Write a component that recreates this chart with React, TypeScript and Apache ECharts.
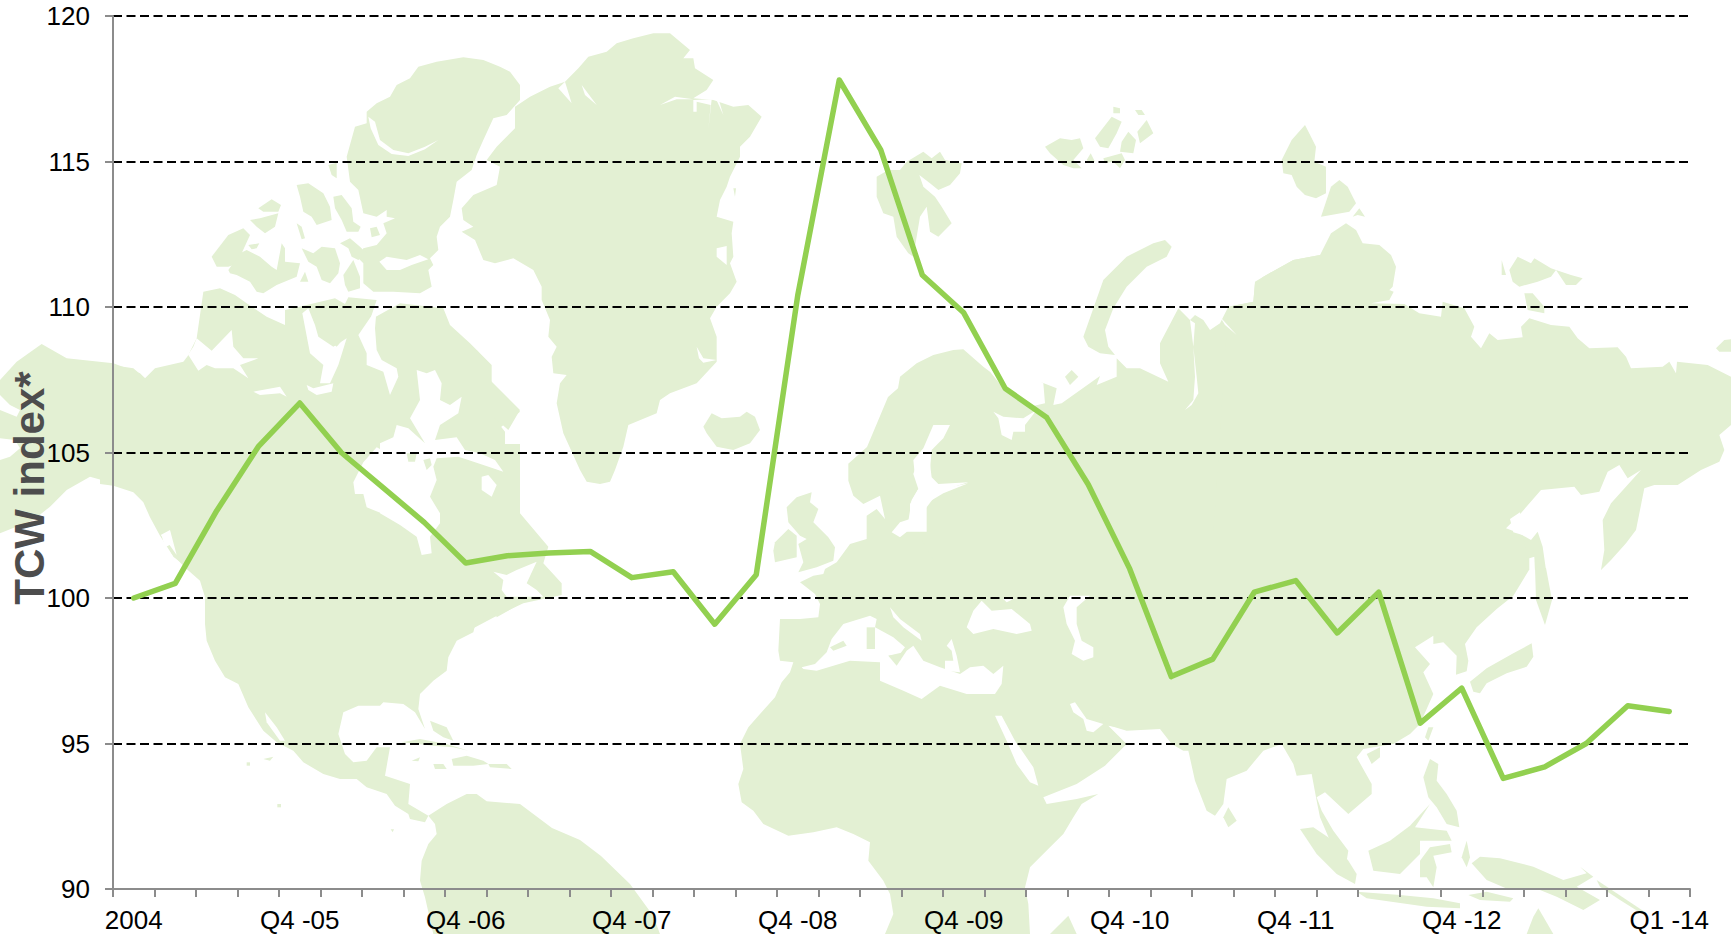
import React, { useEffect, useRef } from "react";
import * as echarts from "echarts";

const categories = [
  "2004", "Q1 -05", "Q2 -05", "Q3 -05", "Q4 -05", "Q1 -06", "Q2 -06", "Q3 -06", "Q4 -06", "Q1 -07",
  "Q2 -07", "Q3 -07", "Q4 -07", "Q1 -08", "Q2 -08", "Q3 -08", "Q4 -08", "Q1 -09", "Q2 -09", "Q3 -09",
  "Q4 -09", "Q1 -10", "Q2 -10", "Q3 -10", "Q4 -10", "Q1 -11", "Q2 -11", "Q3 -11", "Q4 -11", "Q1 -12",
  "Q2 -12", "Q3 -12", "Q4 -12", "Q1 -13", "Q2 -13", "Q3 -13", "Q4 -13", "Q1 -14",
];
const shownLabels = ["2004", "Q4 -05", "Q4 -06", "Q4 -07", "Q4 -08", "Q4 -09", "Q4 -10", "Q4 -11", "Q4 -12", "Q1 -14"];
const tcwIndex = [
  100, 100.5, 103, 105.2, 106.7, 105, 103.8, 102.6, 101.2, 101.45,
  101.55, 101.6, 100.7, 100.9, 99.1, 100.8, 110.4, 117.8, 115.4, 111.1,
  109.8, 107.2, 106.2, 103.9, 101, 97.3, 97.9, 100.2, 100.6, 98.8,
  100.2, 95.7, 96.9, 93.8, 94.2, 95, 96.3, 96.1,
];
const yAxisTitle = "TCW index*";

type Pts = number[][];
type Piece = [number, number, Pts];
// Background world map: outlines traced per crop window [originX, originY, points at 3x]
const Z4 = [100, 0];
const Z5 = [100, 464];
const Z6 = [500, 0];
const Z7 = [700, 464];
const Z8 = [900, 60];
const Z9 = [1311, 100];
const Z10 = [1100, 464];
const Z11 = [0, 330];
const Z12 = [380, 350];
const Z3 = [1300, 650];
const REAL = [0, 0];
const p = (o: number[], pts: Pts): Piece => [o[0], o[1], pts];

const mapLand: Piece[] = [
  p(Z4, [[800,335],[830,310],[870,290],[890,255],[930,235],[955,200],[1010,185],[1090,172],[1150,180],[1200,200],[1230,215],[1260,255],[1260,300],[1220,345],[1180,355],[1150,420],[1130,465],[1115,510],[1070,545],[1060,600],[1050,650],[1020,680],[1010,710],[1015,750],[990,775],[1000,795],[985,810],[995,860],[960,880],[880,875],[820,875],[790,850],[790,790],[775,775],[790,745],[830,735],[860,700],[850,670],[885,655],[860,650],[860,630],[830,650],[790,640],[775,570],[750,545],[740,470],[765,380],[800,370]]),
  p(Z4, [[0,1090],[100,1105],[135,1135],[165,1105],[250,1085],[265,1065],[290,1015],[310,875],[360,865],[405,885],[440,910],[500,950],[555,975],[555,930],[620,915],[705,895],[735,912],[745,892],[830,900],[810,960],[900,910],[1030,925],[1050,975],[1110,1030],[1175,1095],[1175,1150],[1260,1235],[1155,1320],[1130,1410],[0,1410]]),
  p(Z12, [[0,0],[290,0],[330,45],[330,90],[420,180],[385,240],[340,200],[375,245],[375,310],[380,350],[360,380],[420,490],[505,590],[490,640],[545,700],[545,735],[430,760],[345,800],[280,835],[0,840]]),
  p(Z11, [[0,150],[50,95],[125,42],[200,85],[340,100],[420,130],[440,150],[600,150],[600,740],[520,680],[490,620],[470,570],[420,490],[340,460],[270,440],[200,480],[150,530],[100,570],[0,610]]),
  p(Z5, [[0,60],[40,65],[100,85],[130,115],[150,160],[180,215],[215,270],[260,315],[300,350],[315,400],[315,480],[320,530],[345,590],[375,640],[415,660],[445,730],[490,800],[530,835],[580,860],[610,895],[670,930],[720,945],[770,945],[800,970],[860,990],[885,1025],[925,1050],[930,1065],[975,1075],[985,1055],[925,1020],[930,960],[855,935],[870,850],[830,850],[800,890],[760,895],[735,870],[715,810],[730,745],[775,725],[840,725],[850,715],[910,720],[945,745],[975,795],[955,735],[960,690],[1000,650],[1040,620],[1045,580],[1070,530],[1120,505],[1130,465],[1185,440],[1190,460],[1260,420],[1260,-60],[0,-60]]),
  p(Z5, [[985,1055],[1005,1080],[1010,1110],[985,1140],[965,1190],[960,1250],[975,1300],[1000,1410],[1680,1410],[1660,1356],[1590,1260],[1503,1176],[1440,1128],[1356,1092],[1260,1020],[1160,1012],[1130,990],[1100,990],[1040,1020]]),
  p(Z6, [[45,385],[45,320],[90,290],[150,260],[195,245],[235,205],[265,170],[320,155],[350,130],[400,115],[460,100],[510,100],[570,150],[550,175],[580,175],[585,205],[640,240],[620,270],[580,295],[640,300],[700,320],[745,315],[785,350],[750,410],[720,440],[720,470],[690,530],[680,560],[660,600],[650,650],[700,665],[695,700],[700,770],[690,790],[710,845],[690,880],[650,920],[630,955],[650,1010],[650,1085],[590,1150],[510,1180],[480,1200],[470,1240],[385,1275],[370,1340],[345,1410],[330,1445],[300,1452],[260,1445],[240,1410],[190,1300],[170,1210],[180,1150],[200,1125],[160,1120],[155,1070],[170,1040],[145,1010],[150,960],[125,900],[125,860],[100,810],[40,775],[-15,790],[-50,780],[-75,720],[-115,695],[-80,680],[-110,660],[-115,625],[-80,585],[-10,555],[0,500],[-40,480],[-10,440]]),
  p(Z7, [[445,0],[445,50],[460,95],[490,120],[540,95],[555,165],[530,135],[500,155],[500,225],[450,240],[410,295],[375,315],[370,330],[340,335],[300,355],[345,390],[360,420],[355,460],[300,465],[240,465],[235,560],[240,590],[280,595],[270,625],[245,655],[225,700],[180,750],[145,790],[120,840],[130,915],[115,960],[125,1015],[160,1040],[190,1080],[265,1115],[340,1105],[410,1090],[460,1110],[510,1135],[505,1190],[550,1250],[570,1290],[580,1350],[555,1410],[990,1410],[985,1320],[975,1270],[990,1210],[1050,1150],[1090,1110],[1120,1060],[1145,1020],[1195,990],[1130,1005],[1040,1020],[1030,1000],[1130,960],[1215,905],[1280,840],[1225,785],[1290,795],[1400,700],[1400,-50],[640,-50]]),
  p(Z8, [[-156,1212],[-99,1161],[-36,1011],[-6,985],[0,950],[50,910],[100,885],[160,870],[190,868],[250,920],[270,935],[310,985],[390,1040],[435,1030],[430,970],[420,965],[470,985],[460,1035],[485,1030],[600,948],[590,975],[650,950],[650,895],[680,925],[720,925],[805,965],[780,910],[780,850],[835,745],[870,780],[885,765],[910,780],[930,810],[960,790],[985,740],[1060,725],[1065,670],[1090,650],[1180,600],[1260,585],[1290,600],[1290,1500],[100,1500],[-60,1215]]),
  p(Z9, [[-248,620],[-173,605],[-168,545],[-143,530],[-53,480],[27,465],[60,400],[105,370],[135,390],[155,430],[205,435],[240,465],[255,500],[245,560],[215,590],[235,570],[248,575],[235,600],[180,610],[280,612],[325,640],[390,650],[395,605],[460,625],[490,680],[480,710],[510,745],[535,700],[560,720],[635,712],[630,680],[655,655],[720,675],[775,680],[800,715],[835,745],[920,742],[945,770],[960,805],[1055,800],[1075,785],[1095,820],[1098,785],[1190,795],[1260,830],[1290,850],[1290,975],[1260,975],[1225,1005],[1240,1050],[1225,1085],[1170,1110],[1100,1155],[1030,1155],[1000,1165],[990,1215],[975,1290],[945,1330],[900,1380],[870,1410],[880,1350],[875,1260],[900,1210],[990,1110],[950,1135],[925,1095],[890,1115],[865,1175],[810,1185],[790,1160],[690,1170],[625,1245],[585,1285],[625,1300],[660,1320],[680,1295],[695,1340],[705,1410],[-300,1410]]),
  p(Z10, [[-50,200],[1215,200],[1270,220],[1287,318],[1240,395],[1190,435],[1130,490],[1095,540],[1105,590],[1100,622],[1068,632],[1070,575],[1030,535],[1000,540],[1000,515],[945,550],[990,600],[970,625],[1000,690],[960,780],[930,810],[880,840],[790,855],[770,880],[815,960],[815,990],[745,1050],[675,985],[650,1000],[665,1040],[700,1100],[745,1160],[740,1190],[690,1130],[660,1060],[650,1010],[635,930],[590,935],[580,900],[545,840],[490,860],[440,920],[380,945],[370,1020],[345,1055],[320,1040],[285,950],[265,860],[250,860],[215,840],[180,795],[80,800],[30,785],[-50,700]]),
];

const mapWater: Piece[] = [
  p(Z4, [[805,350],[825,365],[840,420],[880,450],[925,460],[975,440],[1015,420],[975,448],[925,468],[875,462],[835,435],[812,385]]),
  p(Z4, [[838,785],[860,770],[920,780],[960,765],[985,778],[935,795],[900,810],[860,810]]),
  p(Z4, [[290,1015],[335,1052],[395,990],[400,1040],[430,1075],[475,1075],[420,1095],[445,1135],[400,1105],[345,1105],[320,1095],[295,1112],[265,1065],[250,1085],[280,1040]]),
  p(Z4, [[460,1175],[540,1160],[560,1190],[540,1180],[480,1185]]),
  p(Z4, [[607,940],[625,925],[645,975],[655,1010],[700,1040],[740,1015],[715,1095],[690,1150],[660,1150],[670,1095],[630,1060]]),
  p(Z4, [[620,1155],[640,1165],[700,1150],[695,1175],[650,1185],[625,1170]]),
  p(Z4, [[830,925],[775,1005],[800,1060],[800,1095],[850,1115],[870,1185],[895,1130],[890,1105],[845,1080],[830,1050],[825,985]]),
  p(Z12, [[0,280],[40,262],[50,225],[85,235],[135,280],[90,205],[120,150],[110,60],[140,70],[165,60],[185,100],[180,150],[210,165],[245,140],[235,190],[180,225],[165,270],[230,262],[255,300],[300,310],[345,330],[370,365],[310,345],[265,330],[235,320],[170,325],[160,350],[170,390],[150,440],[180,490],[180,520],[150,560],[155,610],[125,615],[110,560],[60,525],[0,490]]),
  p(Z5, [[850,-40],[830,-50],[790,-5],[760,55],[765,90],[790,90],[800,130],[850,150]]),
  p(Z12, [[305,380],[325,375],[350,405],[335,440],[305,420]]),
  p(Z12, [[340,665],[380,675],[410,660],[470,635],[440,700],[470,720],[490,740],[380,740],[365,720],[370,690]]),
  p(Z5, [[495,745],[530,790],[555,830],[540,830],[500,775]]),
  p(Z5, [[185,215],[210,200],[215,240],[195,250]]),
  p(Z11, [[0,195],[30,225],[60,240],[50,260],[0,240]]),
  p(Z11, [[0,325],[45,330],[60,355],[30,380],[0,390]]),
  p(Z11, [[482,615],[510,600],[530,675],[505,640]]),
  p(Z6, [[195,245],[175,265],[215,310]]),
  p(Z6, [[245,255],[290,315],[255,285]]),
  p(Z6, [[480,315],[525,290],[580,298],[530,298]]),
  p(Z6, [[580,300],[635,298],[625,390],[632,315],[590,305],[590,335],[580,335]]),
  p(Z6, [[645,290],[670,345],[655,295]]),
  p(Z6, [[590,1040],[610,1075],[650,1080],[610,1088],[597,1075]]),
  p(Z6, [[650,745],[680,738],[680,795],[650,770]]),
  p(Z8, [[280,1055],[310,1070],[370,1075],[410,1050],[375,1095],[375,1115],[340,1115],[335,1140],[305,1125],[295,1075]]),
  p(Z8, [[870,780],[880,860],[885,950],[880,1020],[855,1050],[875,1035],[895,1000],[890,950],[880,860],[885,790]]),
  p(Z8, [[960,770],[1010,825],[975,795]]),
  p(Z8, [[100,1095],[150,1095],[130,1135],[95,1170],[90,1230],[80,1270],[110,1290],[205,1270],[130,1300],[80,1330],[80,1415],[20,1415],[35,1320],[65,1270],[45,1250],[40,1200],[70,1165]]),
  p(Z7, [[650,0],[690,0],[695,40],[715,60],[805,55],[740,75],[710,90],[680,130],[665,145],[650,180],[600,220],[575,205],[600,175],[630,165],[630,120],[655,75],[640,30]]),
  p(Z7, [[305,610],[345,600],[380,565],[395,525],[430,480],[510,455],[530,465],[525,490],[580,520],[615,550],[600,570],[565,575],[590,605],[620,560],[640,545],[670,590],[720,610],[780,630],[810,610],[850,605],[880,630],[910,605],[905,660],[885,690],[800,690],[720,665],[665,705],[610,680],[540,650],[540,595],[450,590],[350,620],[310,615]]),
  p(Z7, [[570,430],[600,465],[660,510],[665,530],[610,490],[580,460]]),
  p(Z7, [[740,545],[755,525],[770,575],[780,625],[735,620],[735,590],[760,590],[755,560]]),
  p(Z7, [[800,490],[820,440],[845,410],[875,440],[935,435],[990,480],[995,500],[950,510],[880,495],[820,510]]),
  p(Z7, [[910,405],[940,405],[920,415]]),
  p(Z7, [[1090,430],[1110,395],[1170,395],[1130,430],[1130,480],[1145,530],[1180,550],[1180,580],[1150,590],[1115,570],[1125,530],[1100,480]]),
  p(Z7, [[885,755],[905,755],[945,830],[1000,910],[1015,965],[990,955],[950,900],[920,830]]),
  p(Z7, [[1110,720],[1125,715],[1160,765],[1210,780],[1180,805],[1160,800],[1150,765],[1120,745]]),
  p(Z9, [[655,1375],[670,1370],[672,1415],[655,1415]]),
  p(Z10, [[1230,165],[1260,145],[1275,215],[1240,205]]),
];

const mapIsles: Piece[] = [
  p(Z4, [[590,555],[625,550],[670,580],[690,620],[695,660],[650,675],[635,650],[610,635],[600,590]]),
  p(Z4, [[700,590],[725,585],[755,625],[760,665],[782,680],[775,695],[740,695],[725,660],[705,625]]),
  p(Z4, [[475,625],[515,598],[543,615],[535,635],[490,635]]),
  p(Z4, [[450,660],[480,655],[535,640],[525,680],[495,700],[470,680]]),
  p(Z4, [[335,770],[385,705],[430,685],[450,705],[425,760],[400,795],[385,800],[350,800]]),
  p(Z4, [[445,735],[478,730],[470,745],[455,748]]),
  p(Z4, [[590,670],[605,680],[615,715],[605,718]]),
  p(Z4, [[385,810],[420,760],[440,750],[480,770],[515,800],[530,810],[545,730],[555,745],[555,785],[600,790],[590,830],[530,855],[490,880],[470,875],[450,845],[410,825],[390,820]]),
  p(Z4, [[605,745],[640,760],[665,740],[705,745],[720,790],[715,820],[690,850],[665,840],[650,800],[625,785]]),
  p(Z4, [[720,730],[750,715],[780,740],[800,760],[775,780],[755,770],[745,745]]),
  p(Z4, [[730,825],[760,780],[780,830],[780,865],[745,875],[735,855]]),
  p(Z4, [[600,845],[615,815],[625,845]]),
  p(Z4, [[685,495],[710,488],[710,535],[695,525]]),
  p(Z4, [[810,685],[830,680],[840,705],[815,712]]),
  p(Z4, [[640,960],[670,940],[730,920],[745,1000],[710,1040],[665,1000]]),
  p(Z12, [[80,310],[110,310],[105,335],[85,335]]),
  p(Z12, [[130,330],[150,325],[155,345],[140,360]]),
  p(Z6, [[610,1280],[635,1240],[665,1255],[720,1250],[740,1235],[765,1250],[780,1290],[750,1330],[700,1350],[650,1340],[620,1300]]),
  p(Z6, [[700,565],[708,565],[705,590]]),
  p(Z8, [[-70,350],[-35,330],[0,330],[20,305],[70,275],[95,295],[120,275],[135,300],[185,310],[180,340],[150,375],[115,390],[90,370],[58,345],[70,380],[105,410],[125,440],[155,490],[115,530],[90,515],[80,440],[60,470],[50,530],[40,590],[25,580],[-10,530],[-20,470],[-50,460],[-70,410]]),
  p(Z8, [[435,260],[480,235],[515,240],[540,235],[550,265],[520,300],[545,325],[520,325],[490,315],[450,280]]),
  p(Z8, [[585,235],[635,170],[665,185],[650,220],[625,265],[600,260]]),
  p(Z8, [[640,140],[660,145],[660,160],[640,160]]),
  p(Z8, [[705,150],[725,150],[735,165],[715,165]]),
  p(Z8, [[665,245],[685,215],[708,240],[700,280],[660,275]]),
  p(Z8, [[712,215],[740,180],[760,220],[720,250]]),
  p(Z8, [[610,295],[665,280],[675,300],[660,325],[640,305],[615,310]]),
  p(Z8, [[560,300],[572,280],[585,305],[570,310]]),
  p(Z8, [[495,950],[515,930],[535,950],[510,975]]),
  p(Z8, [[550,830],[610,660],[680,590],[760,550],[795,540],[815,560],[800,590],[740,620],[680,680],[640,745],[615,810],[625,860],[645,885],[600,880],[565,860]]),
  p(Z9, [[-88,180],[-58,120],[-18,75],[0,110],[15,140],[10,185],[45,200],[45,280],[15,295],[-18,285],[-43,260],[-58,225],[-83,220]]),
  p(Z9, [[30,350],[60,260],[85,240],[110,260],[135,310],[115,335],[60,345]]),
  p(Z9, [[125,350],[145,325],[162,350],[140,345]]),
  p(Z9, [[1215,745],[1240,720],[1260,718],[1260,755],[1225,755]]),
  p(Z9, [[572,480],[585,525],[572,525]]),
  p(Z9, [[595,510],[620,470],[660,490],[670,475],[720,505],[735,510],[720,530],[680,545],[625,560],[605,545]]),
  p(Z9, [[735,510],[780,525],[815,535],[795,555],[765,555]]),
  p(Z9, [[640,580],[665,580],[700,620],[700,640],[650,630]]),
  p(Z7, [[260,130],[290,100],[335,85],[330,115],[355,135],[340,175],[385,220],[405,250],[400,290],[350,310],[295,325],[310,295],[295,240],[320,225],[300,215],[265,175]]),
  p(Z7, [[225,235],[265,195],[290,215],[290,280],[225,295],[220,260]]),
  p(Z7, [[500,490],[525,490],[525,555],[500,555]]),
  p(Z7, [[565,575],[610,565],[600,590]]),
  p(Z7, [[390,550],[430,530],[440,545],[400,560]]),
  p(Z7, [[1050,1410],[1105,1355],[1130,1410]]),
  p(Z10, [[975,820],[985,790],[1000,790],[985,830]]),
  p(Z10, [[800,870],[840,850],[840,880],[815,900]]),
  p(Z10, [[370,1060],[385,1030],[410,1070],[385,1090]]),
  p(Z10, [[970,940],[990,885],[1015,900],[1010,950],[1040,990],[1070,1040],[1078,1090],[1040,1080],[1010,1030],[985,1000]]),
  p(Z10, [[805,1160],[870,1130],[930,1085],[990,1020],[945,1090],[1040,1100],[1055,1130],[960,1130],[960,1170],[900,1230],[820,1220]]),
  p(Z10, [[600,1095],[640,1090],[700,1130],[745,1190],[770,1230],[765,1260],[710,1230],[650,1170]]),
  p(Z10, [[960,1190],[990,1150],[1050,1140],[1055,1165],[1000,1175],[1010,1210],[1000,1270],[980,1240],[960,1240]]),
  p(Z10, [[1085,1180],[1100,1130],[1110,1180],[1100,1210]]),
  p(REAL, [[4605,1704],[4638,1704],[4656,1800],[4635,1875],[4608,1800]]),
  p(Z3, [[510,95],[560,55],[640,10],[695,-20],[700,20],[680,50],[620,70],[560,100],[540,130],[520,125]]),
  p(Z3, [[540,620],[600,625],[700,650],[790,690],[860,670],[840,650],[880,680],[830,710],[900,750],[850,780],[770,740],[720,720],[630,720],[560,690],[515,640]]),
  p(Z3, [[890,690],[950,730],[1040,790],[1040,800],[960,750],[900,710]]),
  p(Z3, [[170,725],[300,735],[400,745],[480,760],[480,775],[380,770],[200,745]]),
  p(Z3, [[680,852],[700,800],[715,775],[730,800],[760,852]]),
  p(Z3, [[505,735],[560,725],[640,745],[630,755],[540,750]]),
  p(Z5, [[905,835],[960,825],[1040,840],[1105,860],[1060,850],[1000,845]]),
  p(Z5, [[1000,900],[1030,900],[1040,915],[1005,915]]),
  p(Z5, [[1055,885],[1100,875],[1150,890],[1165,900],[1120,905],[1060,905]]),
  p(Z5, [[1165,900],[1220,900],[1235,915],[1170,910]]),
  p(Z5, [[990,770],[1040,790],[1060,830],[1030,820],[1000,800]]),
  p(Z5, [[935,890],[960,880],[955,892]]),
  p(Z5, [[462,695],[470,690],[482,712],[475,718]]),
  p(Z5, [[440,895],[450,895],[450,905],[440,905]]),
  p(Z5, [[490,885],[520,878],[510,890]]),
  p(Z5, [[532,1020],[543,1020],[543,1030],[532,1030]]),
  p(Z5, [[872,1096],[882,1096],[878,1105]]),
];

const LAND = "#e3f0d3";

function mapElements() {
  const layers: [Piece[], string][] = [[mapLand, LAND], [mapWater, "#ffffff"], [mapIsles, LAND]];
  const out: any[] = [];
  let order = 0;
  for (const [pieces, fill] of layers) {
    for (const [ox, oy, pts] of pieces) {
      out.push({
        type: "polygon",
        silent: true,
        z: -1,
        z2: order++,
        shape: { points: pts.map(([x, y]) => [ox + x / 3, oy + y / 3]) },
        style: { fill },
      });
    }
  }
  return out;
}

const FONT = "'Liberation Sans', Arial, sans-serif";
const AXIS_GREY = "#8c8c8c";

export default function App() {
  const ref = useRef<HTMLDivElement>(null);
  useEffect(() => {
    document.body.style.margin = "0";
    const chart = echarts.init(ref.current!, undefined, { renderer: "svg" });
    chart.setOption({
      animation: false,
      backgroundColor: "#ffffff",
      grid: { left: 113, top: 16, width: 1577, height: 873, containLabel: false },
      graphic: {
        elements: [
          ...mapElements(),
          {
            type: "text",
            silent: true,
            x: 29,
            y: 488,
            rotation: Math.PI / 2,
            z: 10,
            style: {
              text: yAxisTitle,
              fill: "#4d4d4d",
              font: `bold 42px ${FONT}`,
              textAlign: "center",
              textVerticalAlign: "middle",
            },
          },
        ],
      },
      xAxis: {
        type: "category",
        data: categories,
        boundaryGap: true,
        axisLine: { onZero: false, lineStyle: { color: AXIS_GREY, width: 2 } },
        axisTick: { show: true, interval: 0, alignWithLabel: false, length: 8, lineStyle: { color: AXIS_GREY, width: 2 } },
        axisLabel: {
          interval: (_: number, v: string) => shownLabels.includes(v),
          color: "#000",
          fontSize: 26,
          fontFamily: FONT,
          margin: 18,
          hideOverlap: false,
        },
        splitLine: { show: false },
      },
      yAxis: {
        type: "value",
        min: 90,
        max: 120,
        interval: 5,
        axisLine: { show: true, lineStyle: { color: AXIS_GREY, width: 2 } },
        axisTick: { show: true, length: 8, lineStyle: { color: AXIS_GREY, width: 2 } },
        axisLabel: { color: "#000", fontSize: 26, fontFamily: FONT, margin: 23 },
        splitLine: { show: true, showMinLine: false, lineStyle: { color: "#000", width: 2, type: [9, 4.5] } },
      },
      series: [
        {
          type: "line",
          data: tcwIndex,
          symbol: "none",
          smooth: false,
          lineStyle: { color: "#92d050", width: 5.5, cap: "round", join: "round" },
          z: 5,
        },
      ],
    });
    return () => chart.dispose();
  }, []);
  return <div ref={ref} style={{ width: 1731, height: 934 }} />;
}
